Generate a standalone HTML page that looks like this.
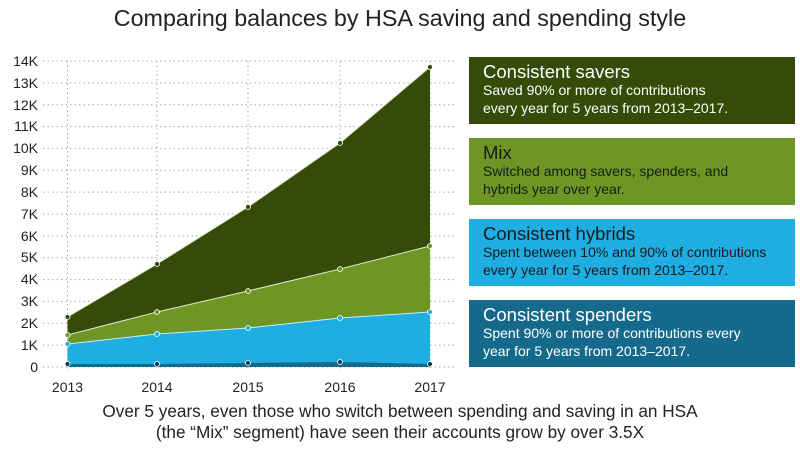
<!DOCTYPE html>
<html><head><meta charset="utf-8"><style>
body{margin:0;width:800px;height:450px;background:#fff;font-family:"Liberation Sans",sans-serif;overflow:hidden;position:relative}
.t{position:absolute;left:0;width:800px;text-align:center;color:#222}
.box{position:absolute;left:469px;width:326px;height:67px;box-sizing:border-box;padding:5px 0 0 14px}
.box .h{font-size:18.5px;line-height:20px}
.box .d{font-size:14px;line-height:17.5px}
</style></head><body>
<div class="t" style="top:5px;font-size:23.3px">Comparing balances by HSA saving and spending style</div>
<svg width="800" height="450" style="position:absolute;left:0;top:0">
<g stroke="#aaa" stroke-width="1" stroke-dasharray="1.5,3">
<line x1="43" x2="456" y1="61" y2="61"/><line x1="43" x2="456" y1="82.9" y2="82.9"/><line x1="43" x2="456" y1="104.7" y2="104.7"/><line x1="43" x2="456" y1="126.6" y2="126.6"/><line x1="43" x2="456" y1="148.4" y2="148.4"/><line x1="43" x2="456" y1="170.3" y2="170.3"/><line x1="43" x2="456" y1="192.1" y2="192.1"/><line x1="43" x2="456" y1="214" y2="214"/><line x1="43" x2="456" y1="235.9" y2="235.9"/><line x1="43" x2="456" y1="257.7" y2="257.7"/><line x1="43" x2="456" y1="279.6" y2="279.6"/><line x1="43" x2="456" y1="301.4" y2="301.4"/><line x1="43" x2="456" y1="323.3" y2="323.3"/><line x1="43" x2="456" y1="345.1" y2="345.1"/><line x1="43" x2="456" y1="367" y2="367"/>
<line x1="67.5" x2="67.5" y1="61" y2="370"/><line x1="157" x2="157" y1="61" y2="370"/><line x1="248" x2="248" y1="61" y2="370"/><line x1="340" x2="340" y1="61" y2="370"/><line x1="430" x2="430" y1="61" y2="370"/>
</g>
<polygon fill="#344c07" points="67.5,317 157,264 248,207 340,143 430,67 430,367 67.5,367"/>
<polygon fill="#6e9624" points="67.5,335 157,312 248,291 340,269 430,246 430,367 67.5,367"/>
<polygon fill="#1eaee2" points="67.5,344 157,334 248,328 340,318 430,312 430,367 67.5,367"/>
<polygon fill="#156a8c" points="67.5,364 157,364 248,363 340,362 430,364 430,367 67.5,367"/>
<g fill="none" stroke="#dfe8c8" stroke-width="1">
<polyline points="67.5,317 157,264 248,207 340,143 430,67"/>
<polyline points="67.5,335 157,312 248,291 340,269 430,246"/>
<polyline stroke="#c8ecf8" points="67.5,344 157,334 248,328 340,318 430,312"/>
</g>
<g stroke="#fff" stroke-width="0.8">
<g fill="#344c07"><circle cx="67.5" cy="317" r="2.5"/><circle cx="157" cy="264" r="2.5"/><circle cx="248" cy="207" r="2.5"/><circle cx="340" cy="143" r="2.5"/><circle cx="430" cy="67" r="2.5"/></g>
<g fill="#6e9624"><circle cx="67.5" cy="335" r="2.5"/><circle cx="157" cy="312" r="2.5"/><circle cx="248" cy="291" r="2.5"/><circle cx="340" cy="269" r="2.5"/><circle cx="430" cy="246" r="2.5"/></g>
<g fill="#1eaee2"><circle cx="67.5" cy="344" r="2.5"/><circle cx="157" cy="334" r="2.5"/><circle cx="248" cy="328" r="2.5"/><circle cx="340" cy="318" r="2.5"/><circle cx="430" cy="312" r="2.5"/></g>
<g fill="#0e3d55"><circle cx="67.5" cy="364" r="2.5"/><circle cx="157" cy="364" r="2.5"/><circle cx="248" cy="363" r="2.5"/><circle cx="340" cy="362" r="2.5"/><circle cx="430" cy="364" r="2.5"/></g>
</g>
<g font-family="Liberation Sans, sans-serif" font-size="14" fill="#222" text-anchor="end">
<text x="38" y="66">14K</text><text x="38" y="88">13K</text><text x="38" y="110">12K</text><text x="38" y="131">11K</text><text x="38" y="153">10K</text><text x="38" y="175">9K</text><text x="38" y="197">8K</text><text x="38" y="219">7K</text><text x="38" y="241">6K</text><text x="38" y="262">5K</text><text x="38" y="284">4K</text><text x="38" y="306">3K</text><text x="38" y="328">2K</text><text x="38" y="350">1K</text><text x="38" y="372">0</text>
</g>
<g font-family="Liberation Sans, sans-serif" font-size="14" fill="#222" text-anchor="middle">
<text x="67.5" y="392">2013</text><text x="157" y="392">2014</text><text x="248" y="392">2015</text><text x="340" y="392">2016</text><text x="430" y="392">2017</text>
</g>
</svg>
<div class="box" style="top:57px;background:#344c07;color:#fff"><div class="h">Consistent savers</div><div class="d">Saved 90% or more of contributions<br>every year for 5 years from 2013–2017.</div></div>
<div class="box" style="top:138px;background:#6e9624;color:#1a1a1a"><div class="h">Mix</div><div class="d">Switched among savers, spenders, and<br>hybrids year over year.</div></div>
<div class="box" style="top:219px;background:#1eaee2;color:#1a1a1a"><div class="h">Consistent hybrids</div><div class="d">Spent between 10% and 90% of contributions<br>every year for 5 years from 2013–2017.</div></div>
<div class="box" style="top:300px;background:#156a8c;color:#fff"><div class="h">Consistent spenders</div><div class="d">Spent 90% or more of contributions every<br>year for 5 years from 2013–2017.</div></div>
<div class="t" style="top:401px;font-size:17.2px;line-height:20.5px">Over 5 years, even those who switch between spending and saving in an HSA<br>(the “Mix” segment) have seen their accounts grow by over 3.5X</div>
</body></html>
